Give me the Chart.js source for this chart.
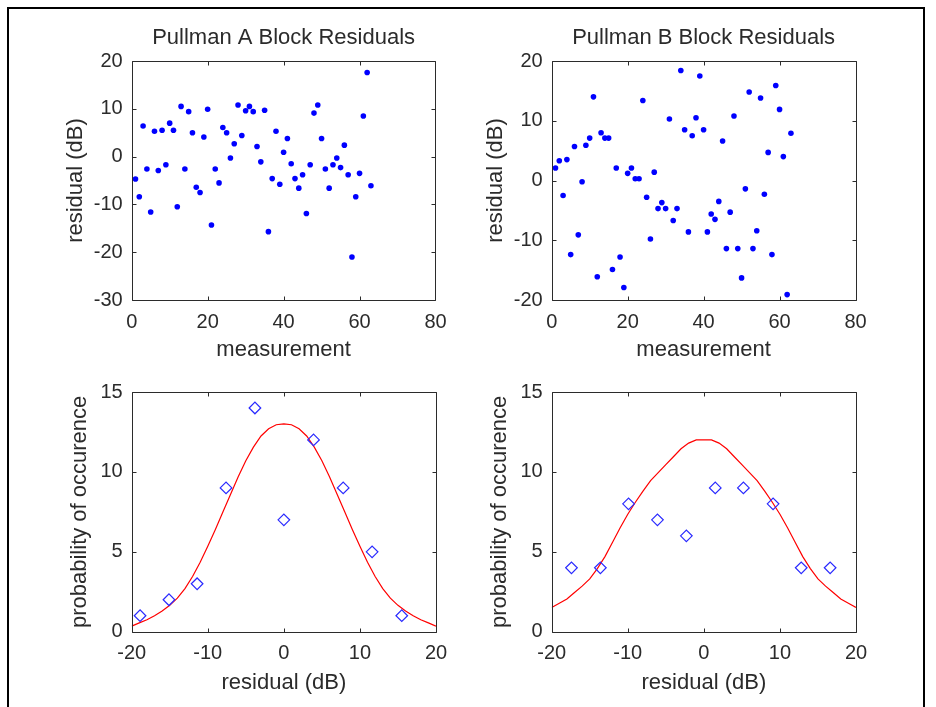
<!DOCTYPE html>
<html>
<head>
<meta charset="utf-8">
<title>Pullman Block Residuals</title>
<script src="https://cdn.jsdelivr.net/npm/chart.js@4.4.0/dist/chart.umd.min.js"></script>
<style>
  html, body { margin: 0; padding: 0; background: #fff; }
  #page { position: relative; width: 936px; height: 707px; overflow: hidden; background: #fff; }
  #page canvas { position: absolute; left: 0; top: 0; }
  #frame { position: absolute; left: 7px; top: 7px; width: 914px; height: 720px;
           border-left: 2px solid #000; border-top: 2px solid #000; border-right: 2px solid #000; }
</style>
</head>
<body>
<div id="page">
  <div id="frame"></div>
  <canvas id="scatterA" width="936" height="707"></canvas>
  <canvas id="scatterB" width="936" height="707"></canvas>
  <canvas id="histA" width="936" height="707"></canvas>
  <canvas id="histB" width="936" height="707"></canvas>
</div>

<script>
// residuals per measurement (measurement number = position in list, 1..63)
var residualA = [-4.7, -8.4, 6.4, -2.6, -11.6, 5.3, -2.9, 5.5, -1.7, 7.0,
  5.5, -10.5, 10.5, -2.6, 9.4, 5.0, -6.4, -7.5, 4.1, 9.9,
  -14.3, -2.6, -5.5, 6.1, 5.0, -0.3, 2.7, 10.8, 4.4, 9.6,
  10.5, 9.4, 2.1, -1.1, 9.7, -15.7, -4.6, 5.3, -5.8, 0.9,
  3.8, -1.5, -4.6, -6.6, -3.8, -11.9, -1.7, 9.1, 10.8, 3.8,
  -2.6, -6.6, -1.7, -0.3, -2.3, 2.4, -3.8, -21.0, -8.4, -3.5,
  8.5, 17.6, -6.1];

var residualB = [2.1, 3.3, -2.5, 3.5, -12.4, 5.7, -9.1, -0.2, 5.9, 7.1,
  14.0, -16.1, 8.0, 7.1, 7.1, -14.9, 2.1, -12.8, -17.9, 1.2,
  2.1, 0.3, 0.3, 13.4, -2.8, -9.8, 1.4, -4.7, -3.7, -4.7,
  10.3, -6.7, -4.7, 18.4, 8.5, -8.6, 7.5, 10.5, 17.5, 8.5,
  -8.6, -5.6, -6.5, -3.5, 6.6, -11.4, -5.3, 10.8, -11.4, -16.3,
  -1.4, 14.8, -11.4, -8.4, 13.8, -2.3, 4.7, -12.4, 15.9, 11.9,
  4.0, -19.1, 7.9];

// histogram bins
var binCentersA = [-18.9, -15.1, -11.4, -7.6, -3.8, 0.0, 3.9, 7.8, 11.6, 15.5];
var binCountsA = [1, 2, 3, 9, 14, 7, 12, 9, 5, 1];
var binCentersB = [-17.4, -13.6, -9.9, -6.1, -2.3, 1.5, 5.2, 9.1, 12.8, 16.6];
var binCountsB = [4, 4, 8, 7, 6, 9, 9, 8, 4, 4];

// fitted curves
var fitX = [-20, -19, -18, -17, -16, -15, -14, -13, -12, -11, -10, -9, -8, -7, -6, -5, -4, -3, -2, -1, 0,
  1, 2, 3, 4, 5, 6, 7, 8, 9, 10, 11, 12, 13, 14, 15, 16, 17, 18, 19, 20];
var fitA = [0.35, 0.55, 0.75, 1.0, 1.3, 1.65, 2.1, 2.7, 3.45, 4.35, 5.35, 6.4, 7.5, 8.6, 9.7, 10.7, 11.55, 12.25, 12.7, 12.95, 13.0,
  12.95, 12.7, 12.25, 11.55, 10.7, 9.7, 8.6, 7.5, 6.4, 5.35, 4.35, 3.45, 2.7, 2.1, 1.65, 1.3, 1.0, 0.75, 0.55, 0.35];
var fitB = [1.52, 1.78, 2.05, 2.45, 2.85, 3.3, 3.95, 4.7, 5.6, 6.5, 7.35, 8.1, 8.8, 9.45, 9.95, 10.45, 10.95, 11.45, 11.8, 12.0, 12.0,
  12.0, 11.8, 11.45, 10.95, 10.45, 9.95, 9.45, 8.8, 8.1, 7.35, 6.5, 5.6, 4.7, 3.95, 3.3, 2.85, 2.45, 2.05, 1.78, 1.52];

var FONT = "'Liberation Sans', Arial, Helvetica, sans-serif";
var INK = "#2b2b2b";

// box round the axes with inward ticks on all four sides
var boxTicks = {
  id: "boxTicks",
  afterDraw: function(chart) {
    var ctx = chart.ctx;
    var a = chart.chartArea;
    var xs = chart.scales.x;
    var ys = chart.scales.y;
    var len = 4;
    var l = Math.round(a.left) + 0.5, r = Math.round(a.right) + 0.5;
    var t = Math.round(a.top) + 0.5, b = Math.round(a.bottom) + 0.5;
    ctx.save();
    ctx.strokeStyle = INK;
    ctx.lineWidth = 1;
    ctx.beginPath();
    xs.ticks.forEach(function(tk) {
      var px = Math.round(xs.getPixelForValue(tk.value)) + 0.5;
      ctx.moveTo(px, b); ctx.lineTo(px, b - len);
      ctx.moveTo(px, t); ctx.lineTo(px, t + len);
    });
    ys.ticks.forEach(function(tk) {
      var py = Math.round(ys.getPixelForValue(tk.value)) + 0.5;
      ctx.moveTo(l, py); ctx.lineTo(l + len, py);
      ctx.moveTo(r, py); ctx.lineTo(r - len, py);
    });
    ctx.rect(l, t, r - l, b - t);
    ctx.stroke();
    ctx.restore();
  }
};

function toPoints(xs, ys) {
  var pts = [];
  for (var i = 0; i < ys.length; i++) {
    pts.push({x: xs[i], y: ys[i]});
  }
  return pts;
}

function measurementPoints(values) {
  var pts = [];
  for (var i = 0; i < values.length; i++) {
    pts.push({x: i + 1, y: values[i]});
  }
  return pts;
}

// build options so that the plot box lands where it is in the figure
function buildOptions(p) {
  var titleLH = 22 * 1.2;
  var padL = p.left - 120;
  var xAxisH = p.xTitleY - p.bottom + titleLH / 2;
  return {
    responsive: false,
    animation: false,
    events: [],
    layout: {
      padding: {
        left: padL,
        right: 936 - p.right,
        top: p.title ? 0 : p.top,
        bottom: 707 - p.bottom - xAxisH
      }
    },
    plugins: {
      legend: { display: false },
      tooltip: { enabled: false },
      title: {
        display: !!p.title,
        text: p.title,
        fullSize: false,
        color: INK,
        font: { family: FONT, size: 22, weight: "normal", lineHeight: 1.2 },
        padding: { top: 38 - titleLH / 2, bottom: p.top - 38 - titleLH / 2 }
      }
    },
    scales: {
      x: {
        type: "linear",
        min: p.xMin, max: p.xMax,
        grid: { display: false, drawTicks: false },
        border: { display: false },
        ticks: { stepSize: p.xStep, padding: 10, color: INK, maxRotation: 0,
                 font: { family: FONT, size: 20, lineHeight: 1.2 } },
        title: { display: true, text: p.xLabel, color: INK, padding: 0,
                 font: { family: FONT, size: 22, lineHeight: 1.2 } },
        afterFit: function(s) { s.height = xAxisH; }
      },
      y: {
        type: "linear",
        min: p.yMin, max: p.yMax,
        grid: { display: false, drawTicks: false },
        border: { display: false },
        ticks: { stepSize: p.yStep, padding: 9, color: INK,
                 font: { family: FONT, size: 20, lineHeight: 1.2 } },
        title: { display: true, text: p.yLabel, color: INK,
                 padding: { top: p.yTitleX - padL - titleLH / 2, bottom: 0 },
                 font: { family: FONT, size: 22, lineHeight: 1.2 } },
        afterFit: function(s) { s.width = p.left - padL; }
      }
    }
  };
}

function printScatter(id, values, title, left, right) {
  new Chart(document.getElementById(id), {
    type: "scatter",
    data: {
      datasets: [{
        data: measurementPoints(values),
        pointStyle: "circle",
        pointRadius: 2.8,
        backgroundColor: "#0000ff",
        borderWidth: 0
      }]
    },
    options: buildOptions({
      title: title, left: left, right: right, top: 61, bottom: 300,
      xMin: 0, xMax: 80, xStep: 20, yMin: id === "scatterA" ? -30 : -20, yMax: 20, yStep: 10,
      xLabel: "measurement", yLabel: "residual (dB)",
      xTitleY: 350, yTitleX: left - 56
    }),
    plugins: [boxTicks]
  });
}

function printHistogram(id, centers, counts, fit, left, right) {
  new Chart(document.getElementById(id), {
    type: "scatter",
    data: {
      datasets: [{
        data: toPoints(centers, counts),
        pointStyle: "rectRot",
        pointRadius: 5.8,
        backgroundColor: "rgba(0,0,0,0)",
        borderColor: "#2a2aff",
        borderWidth: 1.2
      }, {
        data: toPoints(fitX, fit),
        showLine: true,
        pointRadius: 0,
        borderColor: "#ff0000",
        borderWidth: 1.2,
        tension: 0
      }]
    },
    options: buildOptions({
      title: "", left: left, right: right, top: 392, bottom: 631.7,
      xMin: -20, xMax: 20, xStep: 10, yMin: 0, yMax: 15, yStep: 5,
      xLabel: "residual (dB)", yLabel: "probability of occurence",
      xTitleY: 683, yTitleX: left - 51.5
    }),
    plugins: [boxTicks]
  });
}

printScatter("scatterA", residualA, "Pullman A Block Residuals", 131.7, 435.5);
printScatter("scatterB", residualB, "Pullman B Block Residuals", 551.7, 855.5);
printHistogram("histA", binCentersA, binCountsA, fitA, 131.7, 436);
printHistogram("histB", binCentersB, binCountsB, fitB, 551.7, 856);
</script>
</body>
</html>
